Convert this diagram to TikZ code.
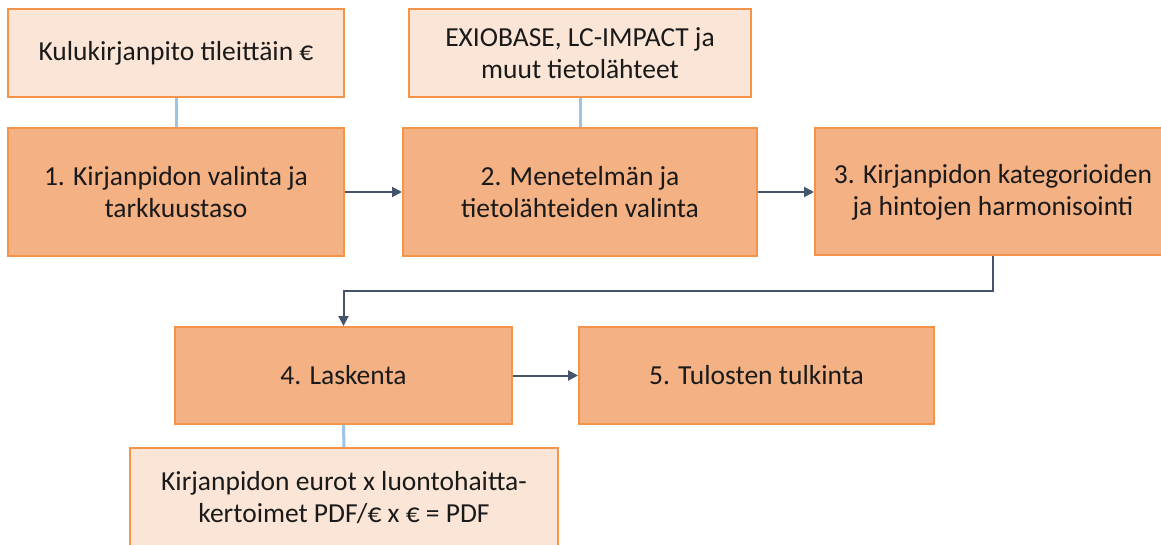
\documentclass[tikz,border=0pt]{standalone}
\usepackage{fontspec}
\setmainfont{Carlito}
\usetikzlibrary{arrows.meta}
\definecolor{lightfill}{HTML}{FBE5D6}
\definecolor{darkfill}{HTML}{F4B183}
\definecolor{boxborder}{HTML}{F4934A}
\definecolor{arrowcol}{HTML}{44546A}
\definecolor{linkblue}{HTML}{9DC3E6}
\definecolor{txt}{HTML}{1A1A1A}
\tikzset{
  box/.style={draw=boxborder, line width=2pt, align=center, text=txt,
    font=\fontsize{27.5}{32}\selectfont, inner sep=0pt},
  lightbox/.style={box, fill=lightfill},
  darkbox/.style={box, fill=darkfill},
  flow/.style={draw=arrowcol, line width=2pt, -{Triangle[length=10pt,width=10pt]}},
  link/.style={draw=linkblue, line width=3pt},
}
\begin{document}
\begin{tikzpicture}[x=1pt,y=-1pt]
\useasboundingbox (0,0) rectangle (1161,545);
\clip (0,0) rectangle (1161,545);
\fill[white] (0,0) rectangle (1161,545);
\node[lightbox, minimum width=336pt, minimum height=88pt] (t1) at (176,53) {Kulukirjanpito tileittäin €};
\node[lightbox, minimum width=342pt, minimum height=88pt] (t2) at (580,53) {EXIOBASE, LC-IMPACT ja\\muut tietolähteet};
\node[darkbox, minimum width=336pt, minimum height=128pt] (b1) at (176,192) {1. Kirjanpidon valinta ja\\tarkkuustaso};
\node[darkbox, minimum width=354pt, minimum height=128pt] (b2) at (580,192) {2. Menetelmän ja\\tietolähteiden valinta};
\node[darkbox, minimum width=356pt, minimum height=127pt] (b3) at (993,192) {3. Kirjanpidon kategorioiden\\ja hintojen harmonisointi};
\node[darkbox, minimum width=337pt, minimum height=97pt] (b4) at (343.5,375.5) {4. Laskenta};
\node[darkbox, minimum width=355pt, minimum height=97pt] (b5) at (756.5,375.5) {5. Tulosten tulkinta};
\node[lightbox, minimum width=428pt, minimum height=100pt] (bot) at (344,498) {Kirjanpidon eurot x luontohaitta-\\kertoimet PDF/€ x € = PDF};
\coordinate (c1) at (993,291);
\coordinate (c2) at (343.5,291);
\draw[link] (t1.south) -- (b1.north);
\draw[link] (t2.south) -- (b2.north);
\draw[link] (b4.south) -- (bot.north);
\draw[flow] (b1.east) -- (b2.west);
\draw[flow] (b2.east) -- (b3.west);
\draw[flow] (b3.south) -- (c1) -- (c2) -- (b4.north);
\draw[flow] (b4.east) -- (b5.west);
\end{tikzpicture}
\end{document}
